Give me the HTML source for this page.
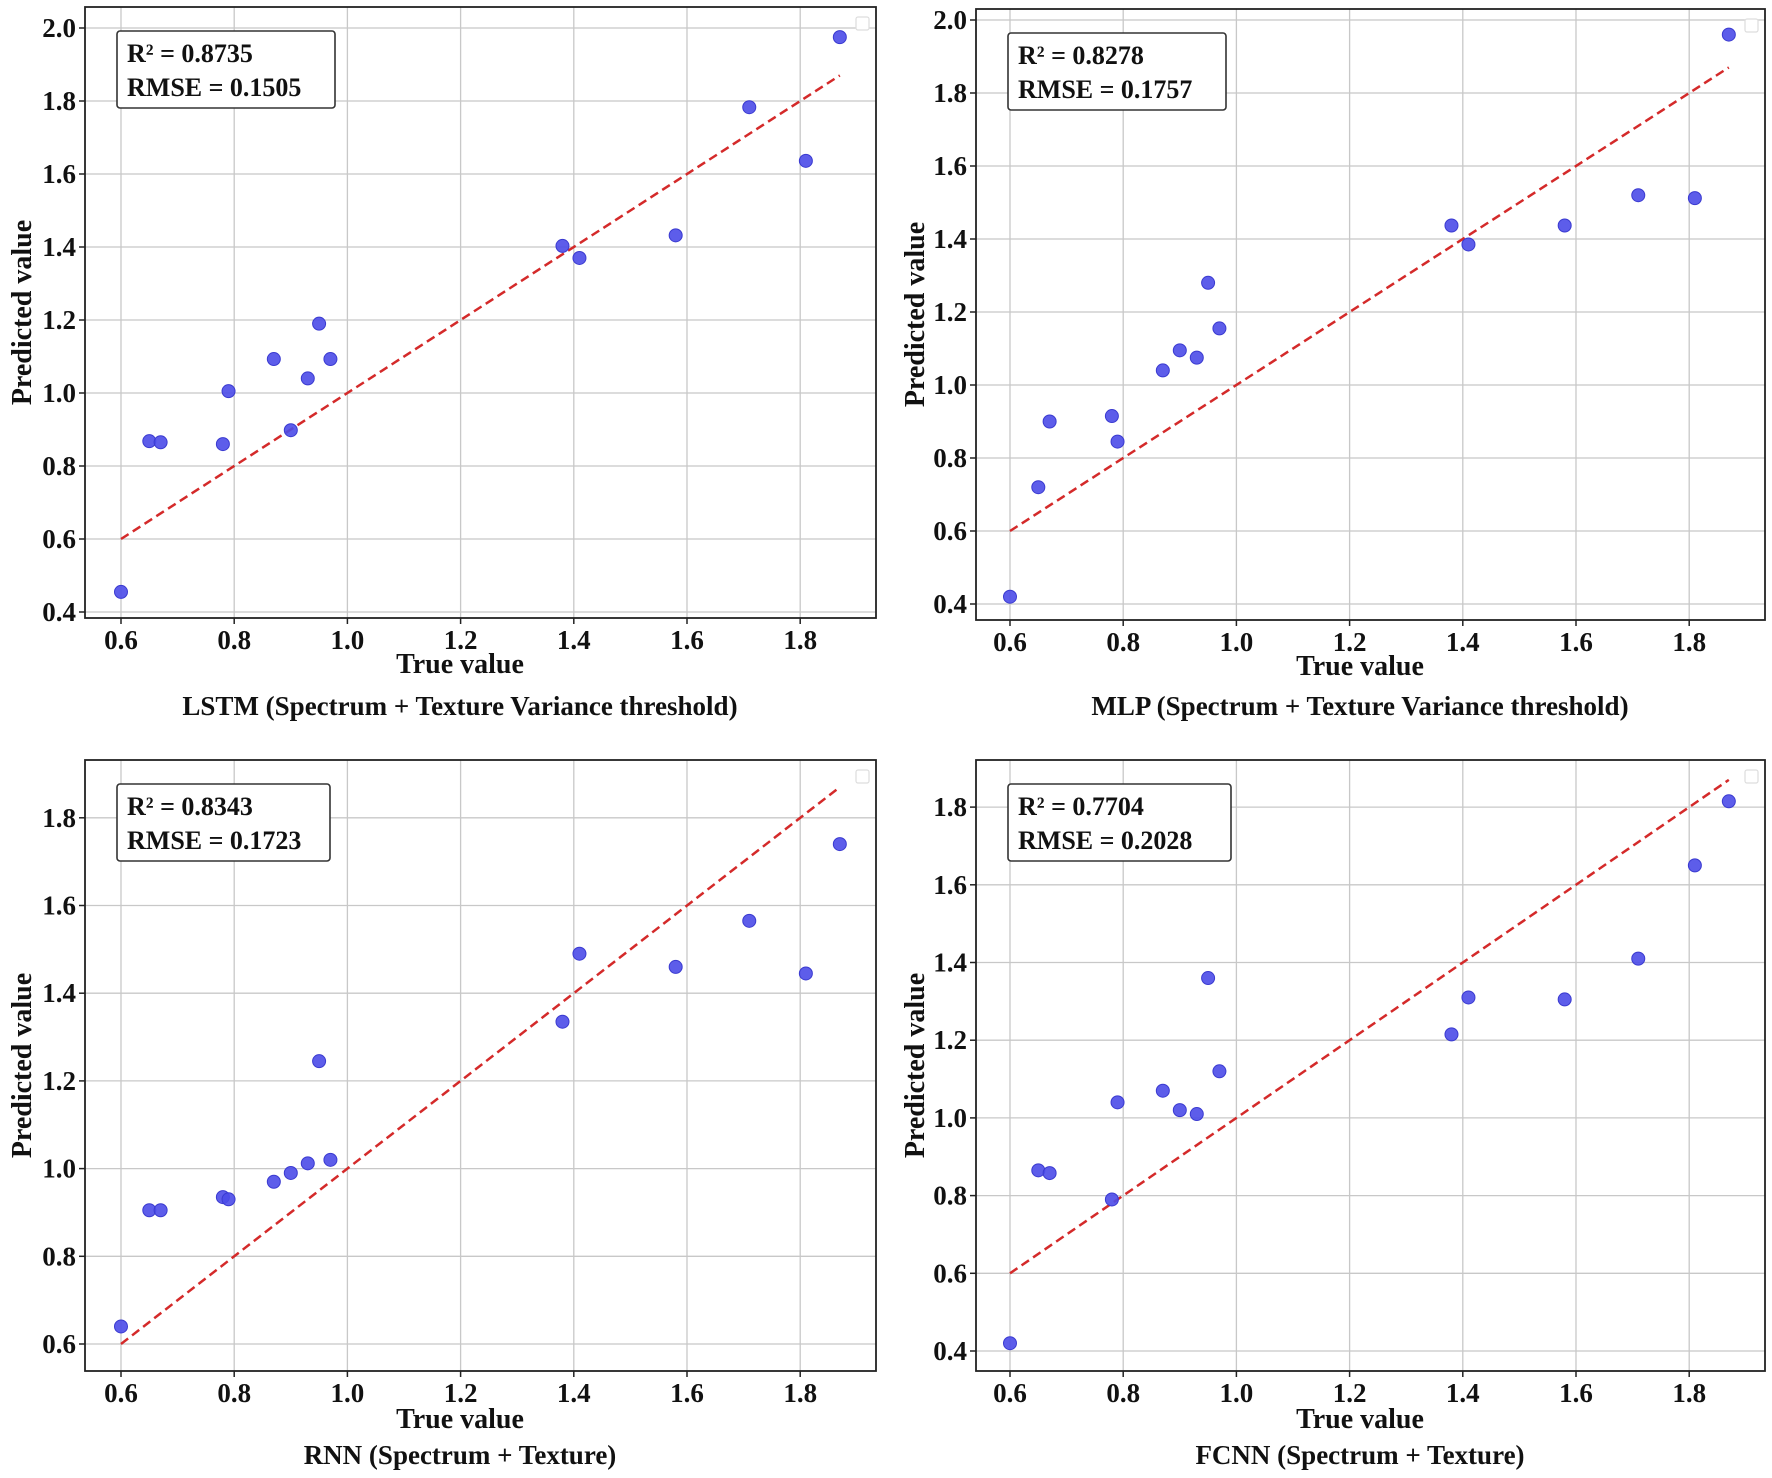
<!DOCTYPE html>
<html><head><meta charset="utf-8"><style>
body{margin:0;background:#fff}
svg{display:block}
text{font-family:"Liberation Serif",serif;font-weight:bold;fill:#111}
</style></head><body>
<svg id="chart" width="1772" height="1478" viewBox="0 0 1772 1478" xmlns="http://www.w3.org/2000/svg"></svg>
<script>
const trueValues = [0.60,0.65,0.67,0.78,0.79,0.87,0.90,0.93,0.95,0.97,1.38,1.41,1.58,1.71,1.81,1.87];
const lstmPred = [0.455,0.868,0.865,0.86,1.005,1.093,0.898,1.04,1.19,1.093,1.403,1.37,1.432,1.783,1.636,1.975];
const mlpPred = [0.42,0.72,0.90,0.915,0.845,1.04,1.095,1.075,1.28,1.155,1.437,1.385,1.437,1.52,1.512,1.96];
const rnnPred = [0.64,0.905,0.905,0.935,0.93,0.97,0.99,1.012,1.245,1.02,1.335,1.49,1.46,1.565,1.445,1.74];
const fcnnPred = [0.42,0.865,0.858,0.79,1.04,1.07,1.02,1.01,1.36,1.12,1.215,1.31,1.305,1.41,1.65,1.815];
const xTicks = [0.6,0.8,1.0,1.2,1.4,1.6,1.8];
const yTicksTop = [0.4,0.6,0.8,1.0,1.2,1.4,1.6,1.8,2.0];
const yTicksRnn = [0.6,0.8,1.0,1.2,1.4,1.6,1.8];
const yTicksFcnn = [0.4,0.6,0.8,1.0,1.2,1.4,1.6,1.8];
const titles = ["LSTM (Spectrum + Texture Variance threshold)","MLP (Spectrum + Texture Variance threshold)","RNN (Spectrum + Texture)","FCNN (Spectrum + Texture)"];
const r2Labels = ["R² = 0.8735","R² = 0.8278","R² = 0.8343","R² = 0.7704"];
const rmseLabels = ["RMSE = 0.1505","RMSE = 0.1757","RMSE = 0.1723","RMSE = 0.2028"];
const lineRange = [0.6,1.87];

const NS="http://www.w3.org/2000/svg";
const svg=document.getElementById('chart');
function mk(tag,attrs,parent){const e=document.createElementNS(NS,tag);for(const k in attrs)e.setAttribute(k,attrs[k]);(parent||svg).appendChild(e);return e;}

const panels=[
 {L:85,R:876,T:7,B:618,x0:121,y0v:0.4,y0:612,ypx:73,yt:yTicksTop,pred:lstmPred,xl:673,st:715,yl:25,cx:460},
 {L:976,R:1765,T:9,B:620,x0:1010,y0v:2.0,y0:20,ypx:-73,yt:yTicksTop,pred:mlpPred,xl:675,st:715,yl:918,cx:1360},
 {L:85,R:876,T:760,B:1371,x0:121,y0v:0.6,y0:1344,ypx:87.7,yt:yTicksRnn,pred:rnnPred,xl:1428,st:1464,yl:25,cx:460},
 {L:976,R:1765,T:760,B:1371,x0:1010,y0v:0.4,y0:1351,ypx:77.7,yt:yTicksFcnn,pred:fcnnPred,xl:1428,st:1464,yl:918,cx:1360}
];
panels.forEach((p,i)=>{
 const g=mk('g',{});
 
 
 const sx=v=>p.x0+(v-0.6)/0.2*113.2;
 const sy=v=>p.ypx>0? p.y0-(v-p.y0v)/0.2*p.ypx : p.y0+(v-p.y0v)/0.2*p.ypx;
 xTicks.forEach(t=>{
  const l=mk('line',{x1:sx(t),x2:sx(t),y1:p.T,y2:p.B,stroke:'#c8c8c8','stroke-width':1.3},g);
  
  mk('line',{x1:sx(t),x2:sx(t),y1:p.B,y2:p.B+6,stroke:'#222','stroke-width':1.5},g);
  const tx=mk('text',{x:sx(t),y:p.B+31,'text-anchor':'middle','font-size':27},g);tx.textContent=t.toFixed(1);
  
 });
 p.yt.forEach(t=>{
  const l=mk('line',{x1:p.L,x2:p.R,y1:sy(t),y2:sy(t),stroke:'#c8c8c8','stroke-width':1.3},g);
  
  mk('line',{x1:p.L-6,x2:p.L,y1:sy(t),y2:sy(t),stroke:'#222','stroke-width':1.5},g);
  const tx=mk('text',{x:p.L-9,y:sy(t)+9,'text-anchor':'end','font-size':27},g);tx.textContent=t.toFixed(1);
  
 });
 const fr=mk('rect',{x:p.L,y:p.T,width:p.R-p.L,height:p.B-p.T,fill:'none',stroke:'#222','stroke-width':1.8},g);
 
 const dl=mk('line',{x1:sx(lineRange[0]),y1:sy(lineRange[0]),x2:sx(lineRange[1]),y2:sy(lineRange[1]),stroke:'#d42a2a','stroke-width':2.5,'stroke-dasharray':'9,5'},g);
 
 trueValues.forEach((x,j)=>{
  const c=mk('circle',{cx:sx(x),cy:sy(p.pred[j]),r:6.5,fill:'#4b4be8','fill-opacity':0.9,stroke:'#3a3ad0','stroke-width':1},g);
  
 });
 const lb=mk('rect',{x:p.R-20,y:p.T+10,width:13,height:13,rx:2,fill:'#fff',stroke:'#ddd','stroke-width':1.2},g);
 
 const bx=p.L+32;
 const ab=mk('rect',{x:bx,y:p.T+24,width:i==3?223:(i==2?213:218),height:77,rx:3,fill:'#fff',stroke:'#333','stroke-width':1.6},g);
 
 const t1=mk('text',{x:bx+10,y:p.T+55,'font-size':26},g);t1.textContent=r2Labels[i];
 
 const t2=mk('text',{x:bx+10,y:p.T+89,'font-size':26},g);t2.textContent=rmseLabels[i];
 
 const xt=mk('text',{x:p.cx,y:p.xl,'text-anchor':'middle','font-size':28},g);xt.textContent='True value';
 
 const yt=mk('text',{x:p.yl+6,y:(p.T+p.B)/2,'text-anchor':'middle','font-size':28,transform:`rotate(-90 ${p.yl+6} ${(p.T+p.B)/2})`},g);yt.textContent='Predicted value';
 
 const st=mk('text',{x:p.cx,y:p.st,'text-anchor':'middle','font-size':27},g);st.textContent=titles[i];
 
});
</script>
</body></html>
